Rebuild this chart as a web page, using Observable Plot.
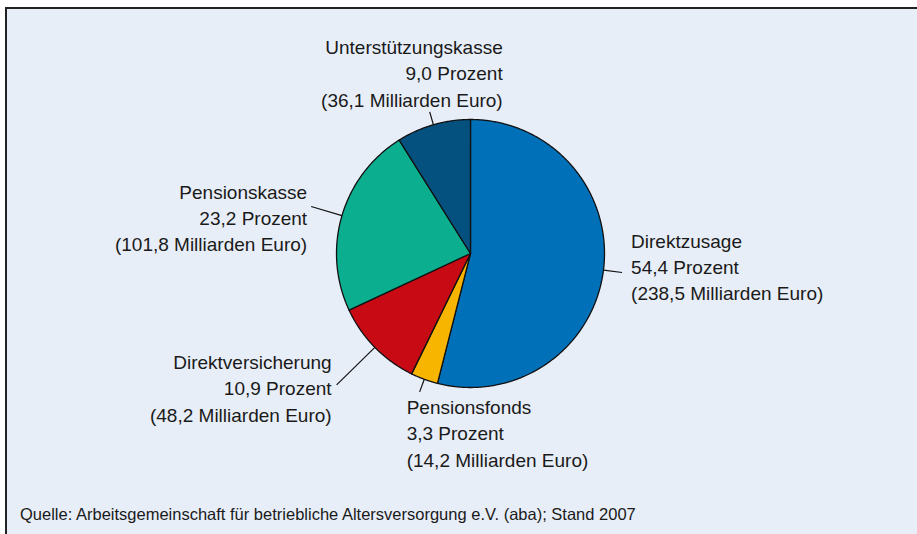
<!DOCTYPE html>
<html>
<head>
<meta charset="utf-8">
<script src="https://cdn.jsdelivr.net/npm/d3@7"></script>
<script src="https://cdn.jsdelivr.net/npm/@observablehq/plot@0.6"></script>
<style>
  html, body { margin: 0; padding: 0; background: #ffffff; overflow: hidden; }
  #frame {
    position: absolute; left: 5px; top: 7px; width: 930px; height: 540px;
    border-left: 2px solid #222; border-top: 2px solid #222;
    background: #e8eef8;
  }
  #chart svg { display: block; }
  #caption {
    position: absolute; left: 13px; top: 497px;
    font-family: "Liberation Sans", Arial, sans-serif; font-size: 16.5px;
    line-height: 16px; color: #1a1a1a; white-space: nowrap;
  }
</style>
</head>
<body>
<div id="frame">
  <div id="chart"></div>
  <div id="caption">Quelle: Arbeitsgemeinschaft für betriebliche Altersversorgung e.V. (aba); Stand 2007</div>
</div>
<script>
// ---- Data ----
const categories = ["Direktzusage", "Pensionsfonds", "Direktversicherung", "Pensionskasse", "Unterstützungskasse"];
const percent = [54.4, 3.3, 10.9, 23.2, 9.0];
const billionsEuro = [238.5, 14.2, 48.2, 101.8, 36.1];
const colors = ["#0070b9", "#f7b500", "#c80a14", "#0bae8e", "#04507e"];

// ---- Label layout (leader length in radii, text offsets in px) ----
const labelLayout = {
  "Direktzusage":        {k: 1.14, dx: 9,   dy: -7, anchor: "start"},
  "Pensionsfonds":       {k: 1.10, dx: -13, dy: 40, anchor: "start"},
  "Direktversicherung":  {k: 1.40, dx: -5,  dy: 2,  anchor: "end"},
  "Pensionskasse":       {k: 1.24, dx: -4,  dy: 10, anchor: "end"},
  "Unterstützungskasse": {k: 1.10, dx: 73,  dy: -40, anchor: "end"}
};

const fmt = v => v.toFixed(1).replace(".", ",");
const rows = categories.map((name, i) => ({name, pct: percent[i], eur: billionsEuro[i], color: colors[i]}));
const arcs = d3.pie().sort(null).value(d => d.pct)(rows);

// slice polygons (data units: unit circle, angle clockwise from 12 o'clock)
const slicePts = [];
for (const a of arcs) {
  const n = Math.max(2, Math.ceil((a.endAngle - a.startAngle) / (Math.PI / 360)));
  slicePts.push({name: a.data.name, x: 0, y: 0});
  for (let j = 0; j <= n; j++) {
    const t = a.startAngle + (a.endAngle - a.startAngle) * j / n;
    slicePts.push({name: a.data.name, x: Math.sin(t), y: Math.cos(t)});
  }
}

const leaders = arcs.map(a => {
  const m = (a.startAngle + a.endAngle) / 2;
  const k = labelLayout[a.data.name].k;
  return {name: a.data.name, x1: Math.sin(m), y1: Math.cos(m), x2: k * Math.sin(m), y2: k * Math.cos(m),
          text: `${a.data.name}\n${fmt(a.data.pct)} Prozent\n(${fmt(a.data.eur)} Milliarden Euro)`};
});

const cx = 463, cy = 244, r = 134;

const plot = Plot.plot({
  width: 910, height: 480, margin: 0,
  x: {domain: [-1, 1], range: [cx - r, cx + r], axis: null},
  y: {domain: [-1, 1], range: [cy + r, cy - r], axis: null},
  color: {domain: categories, range: colors},
  style: {background: "transparent", fontFamily: "Liberation Sans, Arial, sans-serif"},
  marks: [
    Plot.line(slicePts, {x: "x", y: "y", z: "name", fill: "name", stroke: "#111", strokeWidth: 1.3, curve: "linear-closed"}),
    Plot.link(leaders, {x1: "x1", y1: "y1", x2: "x2", y2: "y2", stroke: "#111", strokeWidth: 1.2}),
    ...leaders.map(d => {
      const L = labelLayout[d.name];
      return Plot.text([d], {x: "x2", y: "y2", text: "text", dx: L.dx, dy: L.dy, textAnchor: L.anchor,
        lineAnchor: "middle", lineHeight: 1.39, fontSize: 19, fill: "#1a1a1a"});
    })
  ]
});
document.getElementById("chart").appendChild(plot);
</script>
</body>
</html>
